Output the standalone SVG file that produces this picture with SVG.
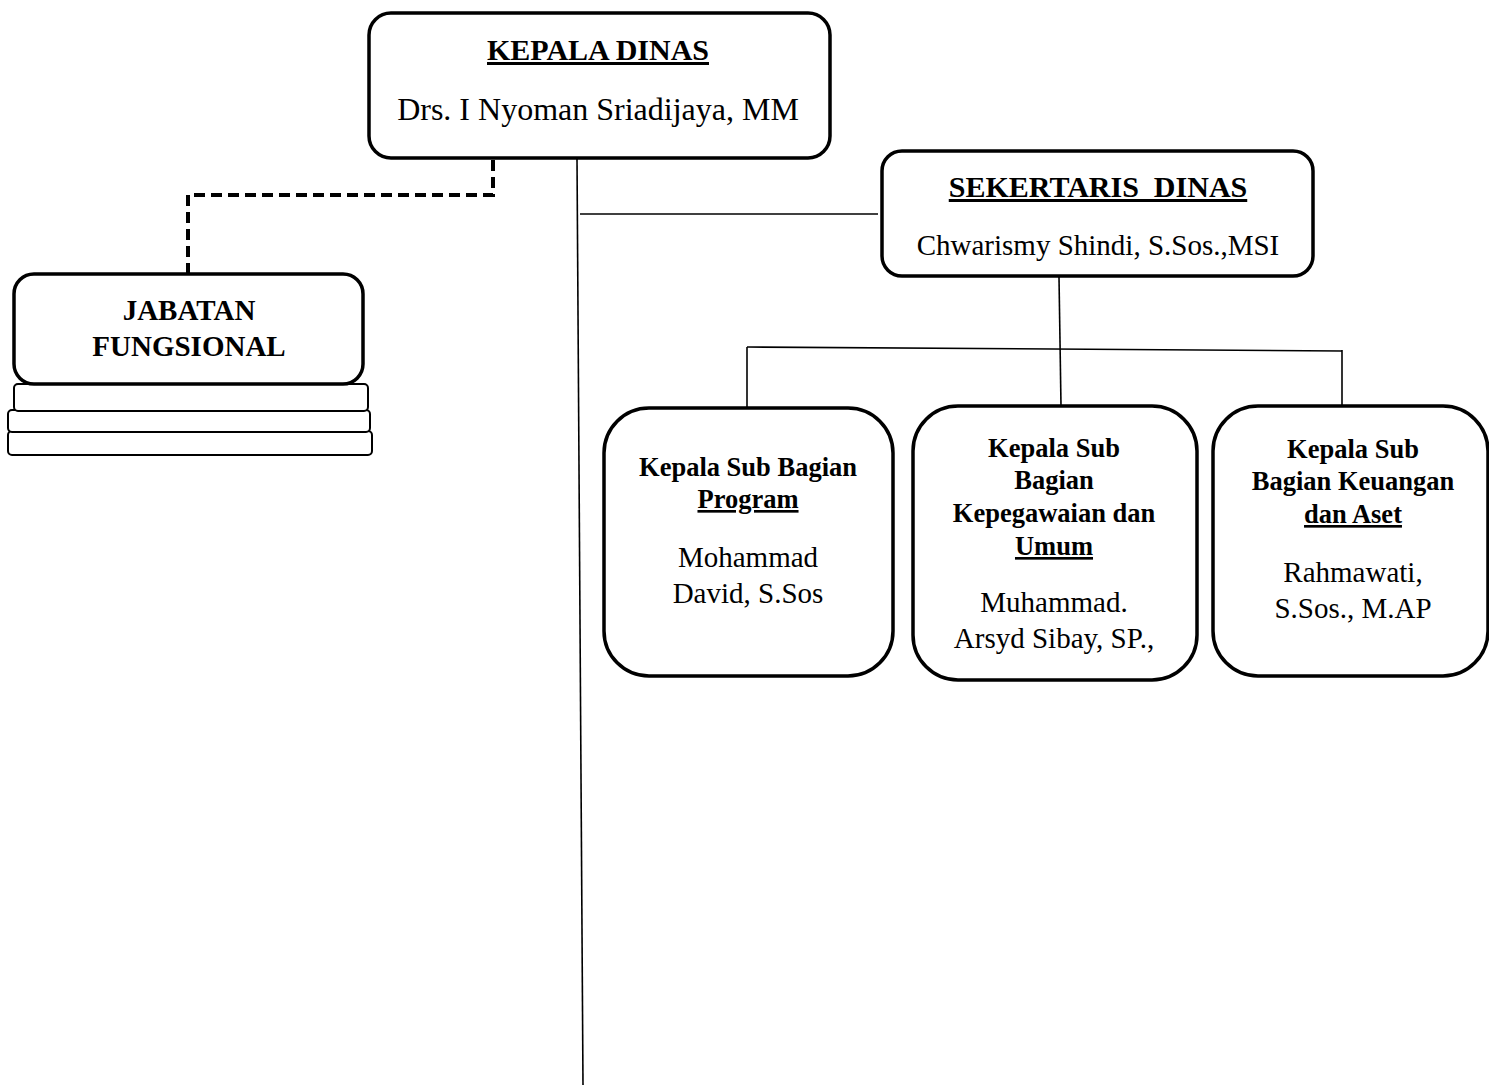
<svg xmlns="http://www.w3.org/2000/svg" width="1489" height="1090" viewBox="0 0 1489 1090">
<style>
.box{fill:#fff;stroke:#000;stroke-width:3.5}
.thin{fill:#fff;stroke:#000;stroke-width:2}
.ln{stroke:#000;stroke-width:1.6;fill:none}
.dash{stroke:#000;stroke-width:4;fill:none;stroke-dasharray:11 6}
text{font-family:"Liberation Serif","Times New Roman",serif;fill:#000;text-anchor:middle}
.b{font-weight:bold}
.t{font-size:26.5px;font-weight:bold}
.n{font-size:29px}
</style>
<rect width="1489" height="1090" fill="#fff"/>
<g id="connectors">
<path class="dash" d="M493,160 V195 H188 V273"/>
<path class="ln" d="M577,158 L583,1085"/>
<path class="ln" d="M580,214 H878"/>
<path class="ln" d="M1059,277 L1061,406"/>
<path class="ln" d="M747,347 L1342,351"/>
<path class="ln" d="M747,347 V408"/>
<path class="ln" d="M1342,350 V406"/>
</g>
<g id="kepala-dinas">
<rect class="box" x="369" y="13" width="461" height="145" rx="22"/>
<text class="b" x="598" y="60" font-size="30" text-decoration="underline">KEPALA DINAS</text>
<text x="598" y="120" font-size="32">Drs. I Nyoman Sriadijaya, MM</text>
</g>
<g id="sekertaris-dinas">
<rect class="box" x="882" y="151" width="431" height="125" rx="20"/>
<text class="b" x="1098" y="197" font-size="30" text-decoration="underline" xml:space="preserve">SEKERTARIS  DINAS</text>
<text x="1098" y="255" font-size="29">Chwarismy Shindi, S.Sos.,MSI</text>
</g>
<g id="jabatan-fungsional">
<rect class="thin" x="8" y="431" width="364" height="24" rx="4"/>
<rect class="thin" x="8" y="410" width="362" height="22" rx="4"/>
<rect class="thin" x="14" y="384" width="354" height="27" rx="4"/>
<rect class="box" x="14" y="274" width="349" height="110" rx="20"/>
<text class="b" x="189" y="320" font-size="29">JABATAN</text>
<text class="b" x="189" y="356" font-size="29">FUNGSIONAL</text>
</g>
<g id="kasubag-program">
<rect class="box" x="604" y="408" width="289" height="268" rx="45"/>
<text class="t" x="748" y="476">Kepala Sub Bagian</text>
<text class="t" x="748" y="508" text-decoration="underline">Program</text>
<text class="n" x="748" y="567">Mohammad</text>
<text class="n" x="748" y="603">David, S.Sos</text>
</g>
<g id="kasubag-kepegawaian">
<rect class="box" x="913" y="406" width="284" height="274" rx="45"/>
<text class="t" x="1054" y="457">Kepala Sub</text>
<text class="t" x="1054" y="489">Bagian</text>
<text class="t" x="1054" y="522">Kepegawaian dan</text>
<text class="t" x="1054" y="555" text-decoration="underline">Umum</text>
<text class="n" x="1054" y="612">Muhammad.</text>
<text class="n" x="1054" y="648">Arsyd Sibay, SP.,</text>
</g>
<g id="kasubag-keuangan">
<rect class="box" x="1213" y="406" width="275" height="270" rx="45"/>
<text class="t" x="1353" y="458">Kepala Sub</text>
<text class="t" x="1353" y="490">Bagian Keuangan</text>
<text class="t" x="1353" y="523" text-decoration="underline">dan Aset</text>
<text class="n" x="1353" y="582">Rahmawati,</text>
<text class="n" x="1353" y="618">S.Sos., M.AP</text>
</g>
</svg>
